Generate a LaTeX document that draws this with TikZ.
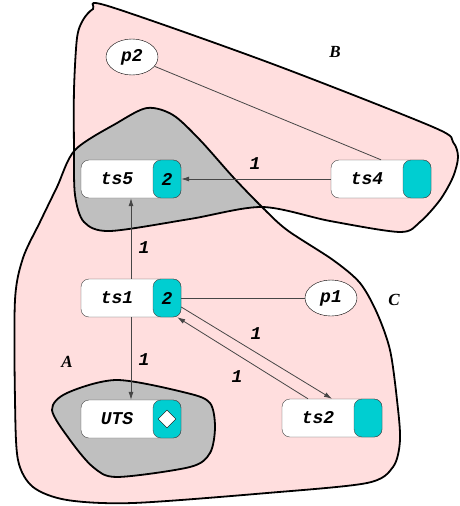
\documentclass[tikz,border=0pt]{standalone}
\usepackage{fontspec}
\newfontfamily\tsfont{Liberation Mono}
\newfontfamily\setfont{Liberation Serif}
\usetikzlibrary{shapes.geometric}
\usetikzlibrary{arrows.meta}
\definecolor{setpink}{RGB}{255,222,222}
\definecolor{setgray}{RGB}{191,191,191}
\definecolor{portcyan}{RGB}{0,206,209}
\definecolor{boxline}{RGB}{70,70,70}
\newcommand\tstext{\tsfont\fontsize{18}{20}\selectfont\bfseries\itshape}
\tikzset{
    tsbox/.style={draw=boxline,fill=white,rounded corners=8pt,minimum width=100pt,minimum height=38pt,inner sep=0pt},
    tsport/.style={draw=boxline,fill=portcyan,rounded corners=8pt,minimum width=28pt,minimum height=38pt,inner sep=0pt,anchor=east,font=\tstext},
    tsname/.style={inner sep=0pt,font=\tstext},
    place/.style={ellipse,draw=black,fill=white,minimum width=52pt,minimum height=36pt,inner sep=0pt,font=\tstext},
    weight/.style={inner sep=0pt,font=\tstext},
    setname/.style={inner sep=0pt,font=\setfont\fontsize{17}{20}\selectfont\bfseries\itshape},
    edge/.style={draw=boxline,line width=0.8pt},
    arc/.style={edge,-{Latex[length=8pt,width=5pt]}},
    setline/.style={draw=black,line width=1.8pt},
}
% box with a coloured port on its right side
\newcommand\tsnode[4]{%
    \node[tsbox] (#1) at (#2) {};
    \node[tsport] (#1p) at (#1.east) {#4};
    \node[tsname] (#1t) at ([xshift=-14pt]#1.center) {#3};
}
% outlines of the sets
\newcommand\setB{plot[smooth cycle,tension=0.5] coordinates {(108,6) (270,63) (433,127) (453,142) (458,157) (453,177) (440,200) (420,222) (400,232) (330,221) (262,207) (190,219) (110,231) (84,222) (75,195) (74,150) (74,90) (77,38) (83,20) (93,9)}}
\newcommand\setC{plot[smooth cycle,tension=0.5] coordinates {(75,150) (117,123) (147,108) (173,115) (200,140) (233,177) (262,207) (287,230) (333,260) (360,283) (377,313) (390,350) (397,400) (400,440) (393,467) (367,483) (267,493) (133,503) (67,500) (33,487) (18,460) (15,400) (15,300) (23,258) (40,222) (57,187)}}
\newcommand\setA{plot[smooth cycle,tension=0.5] coordinates {(52,410) (67,393) (117,380) (187,393) (210,403) (215,427) (210,453) (190,467) (117,477) (93,467) (70,440)}}

\begin{document}
\begin{tikzpicture}[x=1pt,y=-1pt]
\useasboundingbox (0,0) rectangle (459,506);
\fill[setpink] \setB;
\fill[setpink] \setC;
\begin{scope}
    \clip \setB;
    \fill[setgray] \setC;
\end{scope}
\draw[setline] \setB;
\draw[setline] \setC;
\draw[setline,fill=setgray] \setA;

\tsnode{ts5}{131,179}{ts5}{2}
\tsnode{ts4}{381,179}{ts4}{}
\tsnode{ts1}{131,298}{ts1}{2}
\tsnode{uts}{131,419}{UTS}{}
\tsnode{ts2}{332,418}{ts2}{}
\node[diamond,draw=black,fill=white,minimum size=18pt,inner sep=0pt] (utsmark) at (utsp.center) {};
\node[place] (p1) at (331,298) {p1};
\node[place] (p2) at (132,57) {p2};

\draw[arc] (ts4.west) -- (ts5p.east);
\draw[edge] (p2) -- (ts4.north);
\draw[arc] (ts1.north) -- (ts5.south);
\draw[arc] (ts1.south) -- (uts.north);
\draw[edge] (ts1p.east) -- (p1.west);
\draw[arc] ([yshift=-9pt]ts1p.east) -- (ts2.north);
\draw[arc] ([xshift=-24pt]ts2.north) -- ([xshift=-4pt]ts1p.south east);

\node[weight] (w45) at (255,164) {1};
\node[weight] (w15) at (144,248) {1};
\node[weight] (w1u) at (144,360) {1};
\node[weight] (w12) at (256,334) {1};
\node[weight] (w21) at (237,377) {1};
\node[setname] (nameA) at (67,362) {A};
\node[setname] (nameB) at (335,52) {B};
\node[setname] (nameC) at (394,300) {C};
\end{tikzpicture}
\end{document}
